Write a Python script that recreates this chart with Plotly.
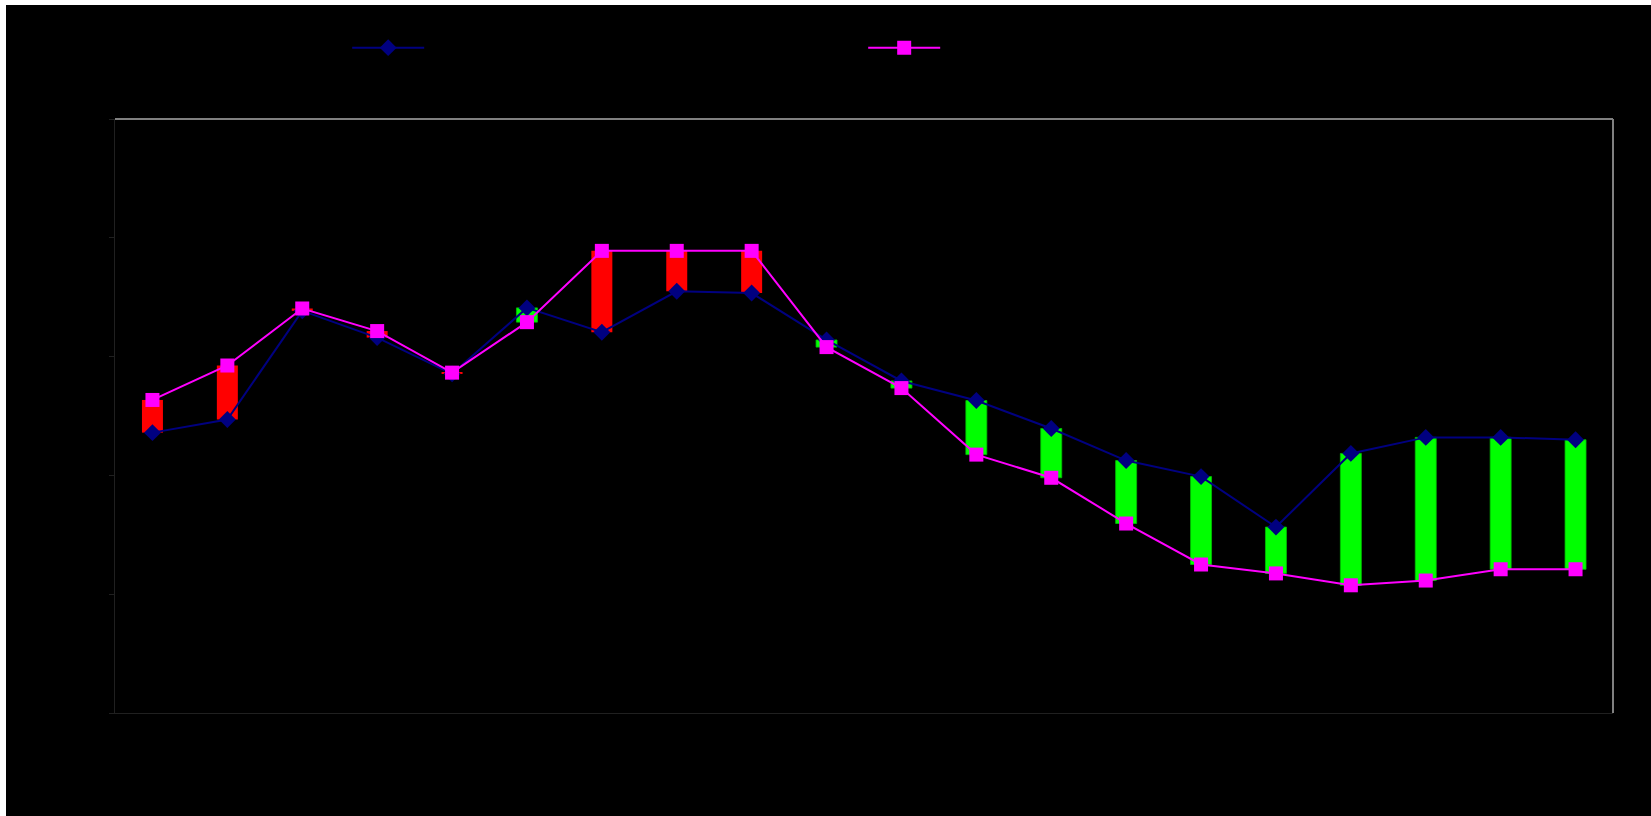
import plotly.graph_objects as go

categories = [str(i) for i in range(1, 21)]
series1_name = "Series1"
series2_name = "Series2"
series1 = [47.2, 49.4, 67.7, 63.2, 57.1, 68.2, 64.1, 71.0, 70.7, 62.8,
           55.9, 52.6, 47.9, 42.5, 39.8, 31.3, 43.7, 46.4, 46.4, 46.0]
series2 = [52.7, 58.5, 68.1, 64.3, 57.3, 65.8, 77.8, 77.8, 77.8, 61.6,
           54.7, 43.5, 39.6, 31.9, 25.0, 23.5, 21.5, 22.3, 24.2, 24.2]
y_ticks = [0, 20, 40, 60, 80, 100]

# up/down bars between the two series
up_base, up_len, dn_base, dn_len = [], [], [], []
for a, b in zip(series1, series2):
    if b >= a:
        up_base.append(a); up_len.append(b - a)
        dn_base.append(None); dn_len.append(None)
    else:
        dn_base.append(b); dn_len.append(a - b)
        up_base.append(None); up_len.append(None)

fig = go.Figure()
fig.add_trace(go.Bar(x=categories, y=up_len, base=up_base, width=0.28,
                     marker=dict(color="#FF0000", line=dict(width=0)),
                     showlegend=False, hoverinfo="skip"))
fig.add_trace(go.Bar(x=categories, y=dn_len, base=dn_base, width=0.28,
                     marker=dict(color="#00FF00", line=dict(color="#00C000", width=0.8)),
                     showlegend=False, hoverinfo="skip"))
fig.add_trace(go.Scatter(x=categories, y=series1, name=series1_name, mode="lines+markers",
                         line=dict(color="#000080", width=2),
                         marker=dict(symbol="diamond", size=13, color="#000080")))
fig.add_trace(go.Scatter(x=categories, y=series2, name=series2_name, mode="lines+markers",
                         line=dict(color="#FF00FF", width=2),
                         marker=dict(symbol="square", size=14, color="#FF00FF")))

fig.update_layout(
    width=1645, height=811,
    paper_bgcolor="#000000", plot_bgcolor="#000000",
    margin=dict(l=109, r=38, t=114, b=103, autoexpand=False),
    barmode="overlay",
    font=dict(family="Liberation Sans, Arial, sans-serif", size=13, color="#000000"),
    legend=dict(orientation="h", x=0.155, xanchor="left", y=1.12, yanchor="middle",
                itemwidth=72, entrywidth=429, entrywidthmode="pixels",
                font=dict(color="#000000", size=13), bgcolor="rgba(0,0,0,0)"),
    xaxis=dict(type="category", range=[-0.5, 19.5], showline=True, linecolor="#202020",
               linewidth=1, showgrid=False, zeroline=False, ticks="",
               tickfont=dict(color="#000000")),
    yaxis=dict(range=[0, 100], tickvals=y_ticks, showline=True, linecolor="#202020",
               linewidth=1, showgrid=False, zeroline=False, ticks="outside",
               ticklen=5, tickcolor="#202020", tickfont=dict(color="#000000")),
    shapes=[
        dict(type="line", xref="paper", yref="paper", x0=0, x1=1, y0=1, y1=1,
             line=dict(color="#808080", width=2)),
        dict(type="line", xref="paper", yref="paper", x0=1, x1=1, y0=0, y1=1,
             line=dict(color="#808080", width=2)),
    ],
)

fig.write_html("out.html", post_script="document.body.style.margin='5px 0 0 6px';")
